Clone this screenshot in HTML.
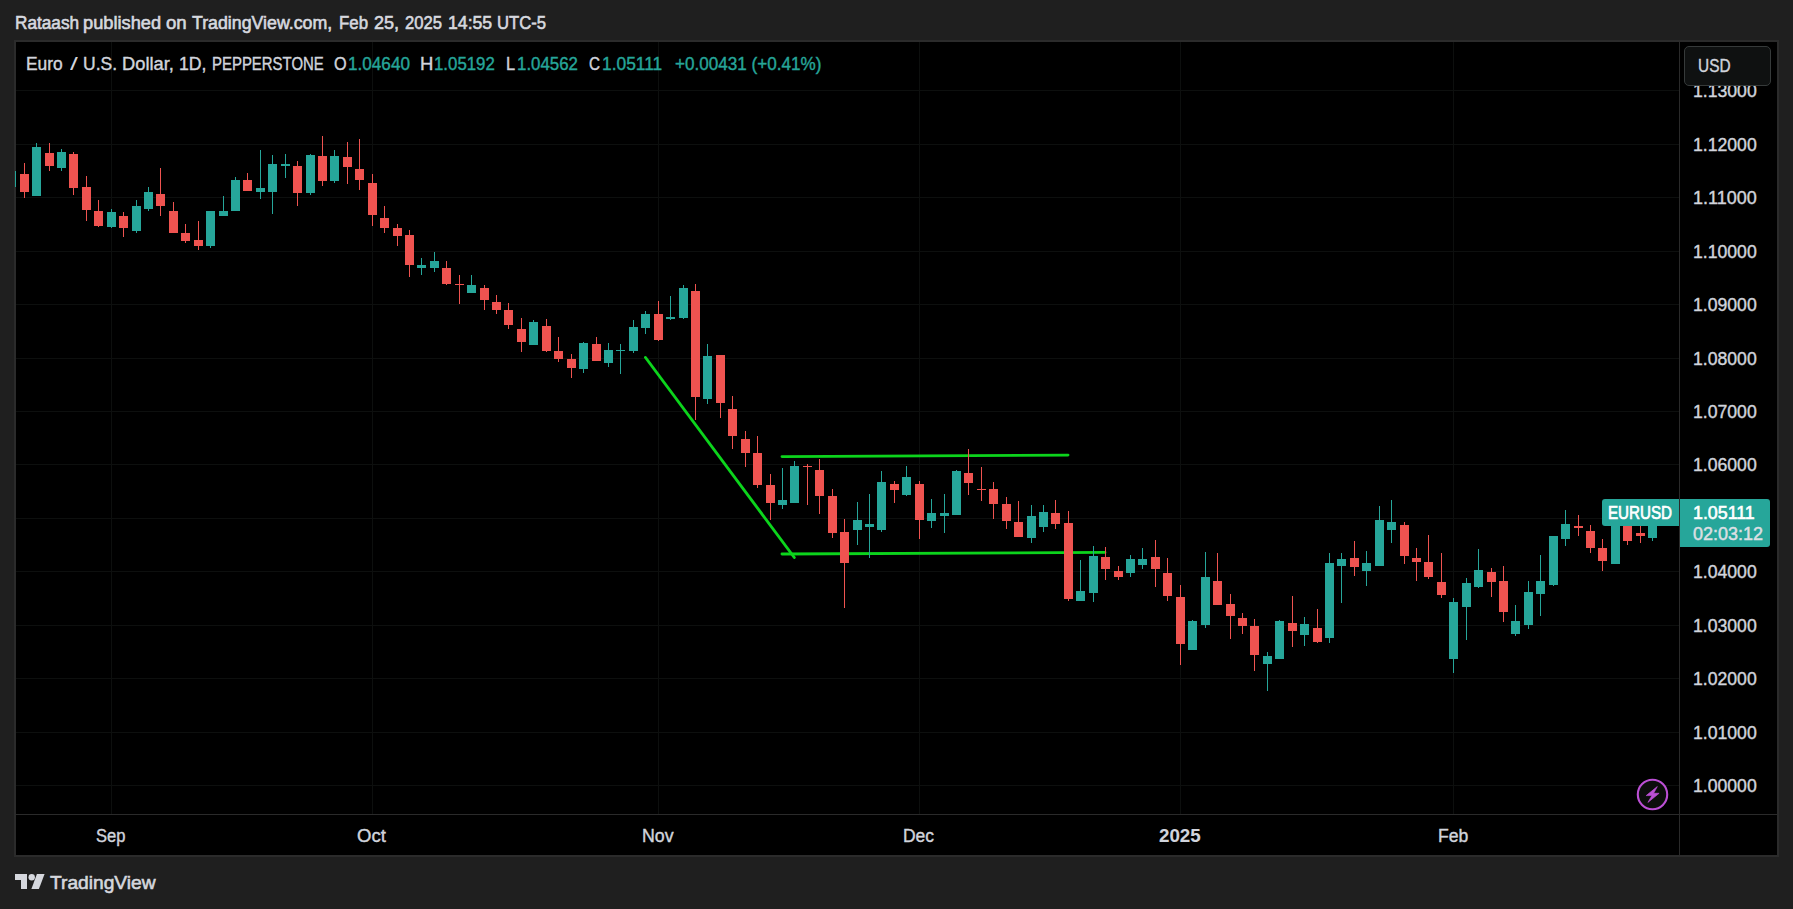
<!DOCTYPE html>
<html><head><meta charset="utf-8"><title>EURUSD chart</title>
<style>
html,body{margin:0;padding:0}
body{width:1793px;height:909px;background:#1f1f1f;overflow:hidden;position:relative;font-family:"Liberation Sans",sans-serif}
svg{position:absolute;left:0;top:0}
.t{-webkit-text-stroke:0.25px currentColor;position:absolute;white-space:pre;line-height:24px;transform-origin:0 0}
</style></head><body>
<svg width="1793" height="909" viewBox="0 0 1793 909" shape-rendering="crispEdges">
<defs><clipPath id="plot"><rect x="15" y="42" width="1664" height="772"/></clipPath></defs>
<rect x="14" y="40" width="1765" height="817" fill="#2b2b2b"/>
<rect x="16" y="42" width="1761" height="813" fill="#000"/>
<rect x="16" y="785" width="1663" height="1" fill="#0d0f0e"/>
<rect x="16" y="732" width="1663" height="1" fill="#0d0f0e"/>
<rect x="16" y="678" width="1663" height="1" fill="#0d0f0e"/>
<rect x="16" y="625" width="1663" height="1" fill="#0d0f0e"/>
<rect x="16" y="571" width="1663" height="1" fill="#0d0f0e"/>
<rect x="16" y="518" width="1663" height="1" fill="#0d0f0e"/>
<rect x="16" y="464" width="1663" height="1" fill="#0d0f0e"/>
<rect x="16" y="411" width="1663" height="1" fill="#0d0f0e"/>
<rect x="16" y="358" width="1663" height="1" fill="#0d0f0e"/>
<rect x="16" y="304" width="1663" height="1" fill="#0d0f0e"/>
<rect x="16" y="251" width="1663" height="1" fill="#0d0f0e"/>
<rect x="16" y="197" width="1663" height="1" fill="#0d0f0e"/>
<rect x="16" y="144" width="1663" height="1" fill="#0d0f0e"/>
<rect x="16" y="90" width="1663" height="1" fill="#0d0f0e"/>
<rect x="111" y="42" width="1" height="772" fill="#0d0f0e"/>
<rect x="372" y="42" width="1" height="772" fill="#0d0f0e"/>
<rect x="658" y="42" width="1" height="772" fill="#0d0f0e"/>
<rect x="919" y="42" width="1" height="772" fill="#0d0f0e"/>
<rect x="1180" y="42" width="1" height="772" fill="#0d0f0e"/>
<rect x="1453" y="42" width="1" height="772" fill="#0d0f0e"/>
<rect x="1679" y="42" width="1" height="813" fill="#2a2a2a"/>
<rect x="16" y="814" width="1761" height="1" fill="#2a2a2a"/>
<line x1="645.5" y1="357.5" x2="794.3" y2="557.5" stroke="#0cd41c" stroke-width="2.9" stroke-linecap="round" shape-rendering="geometricPrecision"/>
<line x1="782" y1="456.6" x2="1068" y2="455.1" stroke="#0cd41c" stroke-width="2.9" stroke-linecap="round" shape-rendering="geometricPrecision"/>
<line x1="782" y1="554.0" x2="1105" y2="552.4" stroke="#0cd41c" stroke-width="2.9" stroke-linecap="round" shape-rendering="geometricPrecision"/>
<g clip-path="url(#plot)">
<rect x="7" y="171" width="9" height="16" fill="#26a69a"/>
<rect x="24" y="163" width="1" height="35" fill="#ef5350"/>
<rect x="20" y="174" width="9" height="18" fill="#ef5350"/>
<rect x="36" y="143" width="1" height="53" fill="#26a69a"/>
<rect x="32" y="147" width="9" height="49" fill="#26a69a"/>
<rect x="49" y="143" width="1" height="28" fill="#ef5350"/>
<rect x="45" y="153" width="9" height="13" fill="#ef5350"/>
<rect x="61" y="149" width="1" height="22" fill="#26a69a"/>
<rect x="57" y="152" width="9" height="16" fill="#26a69a"/>
<rect x="73" y="152" width="1" height="43" fill="#ef5350"/>
<rect x="69" y="154" width="9" height="34" fill="#ef5350"/>
<rect x="86" y="176" width="1" height="45" fill="#ef5350"/>
<rect x="82" y="187" width="9" height="23" fill="#ef5350"/>
<rect x="98" y="200" width="1" height="27" fill="#ef5350"/>
<rect x="94" y="211" width="9" height="15" fill="#ef5350"/>
<rect x="111" y="209" width="1" height="19" fill="#26a69a"/>
<rect x="107" y="212" width="9" height="15" fill="#26a69a"/>
<rect x="123" y="212" width="1" height="25" fill="#ef5350"/>
<rect x="119" y="216" width="9" height="12" fill="#ef5350"/>
<rect x="136" y="200" width="1" height="33" fill="#26a69a"/>
<rect x="132" y="206" width="9" height="25" fill="#26a69a"/>
<rect x="148" y="187" width="1" height="24" fill="#26a69a"/>
<rect x="144" y="192" width="9" height="17" fill="#26a69a"/>
<rect x="160" y="168" width="1" height="48" fill="#ef5350"/>
<rect x="156" y="194" width="9" height="12" fill="#ef5350"/>
<rect x="173" y="202" width="1" height="31" fill="#ef5350"/>
<rect x="169" y="211" width="9" height="22" fill="#ef5350"/>
<rect x="185" y="224" width="1" height="19" fill="#ef5350"/>
<rect x="181" y="233" width="9" height="8" fill="#ef5350"/>
<rect x="198" y="221" width="1" height="29" fill="#ef5350"/>
<rect x="194" y="240" width="9" height="6" fill="#ef5350"/>
<rect x="210" y="211" width="1" height="37" fill="#26a69a"/>
<rect x="206" y="211" width="9" height="35" fill="#26a69a"/>
<rect x="223" y="196" width="1" height="20" fill="#26a69a"/>
<rect x="219" y="211" width="9" height="5" fill="#26a69a"/>
<rect x="235" y="177" width="1" height="34" fill="#26a69a"/>
<rect x="231" y="180" width="9" height="31" fill="#26a69a"/>
<rect x="247" y="173" width="1" height="18" fill="#ef5350"/>
<rect x="243" y="180" width="9" height="11" fill="#ef5350"/>
<rect x="260" y="150" width="1" height="49" fill="#26a69a"/>
<rect x="256" y="188" width="9" height="4" fill="#26a69a"/>
<rect x="272" y="155" width="1" height="59" fill="#26a69a"/>
<rect x="268" y="164" width="9" height="28" fill="#26a69a"/>
<rect x="285" y="154" width="1" height="24" fill="#26a69a"/>
<rect x="281" y="164" width="9" height="2" fill="#26a69a"/>
<rect x="297" y="161" width="1" height="45" fill="#ef5350"/>
<rect x="293" y="166" width="9" height="27" fill="#ef5350"/>
<rect x="310" y="154" width="1" height="41" fill="#26a69a"/>
<rect x="306" y="155" width="9" height="38" fill="#26a69a"/>
<rect x="322" y="136" width="1" height="50" fill="#ef5350"/>
<rect x="318" y="156" width="9" height="25" fill="#ef5350"/>
<rect x="334" y="150" width="1" height="33" fill="#26a69a"/>
<rect x="330" y="156" width="9" height="25" fill="#26a69a"/>
<rect x="347" y="142" width="1" height="42" fill="#ef5350"/>
<rect x="343" y="157" width="9" height="10" fill="#ef5350"/>
<rect x="359" y="139" width="1" height="51" fill="#ef5350"/>
<rect x="355" y="169" width="9" height="11" fill="#ef5350"/>
<rect x="372" y="174" width="1" height="52" fill="#ef5350"/>
<rect x="368" y="183" width="9" height="32" fill="#ef5350"/>
<rect x="384" y="206" width="1" height="27" fill="#ef5350"/>
<rect x="380" y="218" width="9" height="10" fill="#ef5350"/>
<rect x="397" y="224" width="1" height="22" fill="#ef5350"/>
<rect x="393" y="228" width="9" height="8" fill="#ef5350"/>
<rect x="409" y="230" width="1" height="47" fill="#ef5350"/>
<rect x="405" y="235" width="9" height="30" fill="#ef5350"/>
<rect x="421" y="258" width="1" height="17" fill="#26a69a"/>
<rect x="417" y="265" width="9" height="3" fill="#26a69a"/>
<rect x="434" y="252" width="1" height="20" fill="#26a69a"/>
<rect x="430" y="261" width="9" height="7" fill="#26a69a"/>
<rect x="446" y="261" width="1" height="24" fill="#ef5350"/>
<rect x="442" y="268" width="9" height="16" fill="#ef5350"/>
<rect x="459" y="275" width="1" height="29" fill="#ef5350"/>
<rect x="455" y="284" width="9" height="1" fill="#ef5350"/>
<rect x="471" y="275" width="1" height="18" fill="#26a69a"/>
<rect x="467" y="285" width="9" height="8" fill="#26a69a"/>
<rect x="484" y="285" width="1" height="25" fill="#ef5350"/>
<rect x="480" y="288" width="9" height="12" fill="#ef5350"/>
<rect x="496" y="295" width="1" height="19" fill="#ef5350"/>
<rect x="492" y="302" width="9" height="8" fill="#ef5350"/>
<rect x="508" y="303" width="1" height="26" fill="#ef5350"/>
<rect x="504" y="310" width="9" height="15" fill="#ef5350"/>
<rect x="521" y="318" width="1" height="34" fill="#ef5350"/>
<rect x="517" y="329" width="9" height="13" fill="#ef5350"/>
<rect x="533" y="320" width="1" height="25" fill="#26a69a"/>
<rect x="529" y="322" width="9" height="23" fill="#26a69a"/>
<rect x="546" y="319" width="1" height="33" fill="#ef5350"/>
<rect x="542" y="326" width="9" height="25" fill="#ef5350"/>
<rect x="558" y="337" width="1" height="25" fill="#ef5350"/>
<rect x="554" y="351" width="9" height="8" fill="#ef5350"/>
<rect x="571" y="354" width="1" height="24" fill="#ef5350"/>
<rect x="567" y="359" width="9" height="9" fill="#ef5350"/>
<rect x="583" y="342" width="1" height="31" fill="#26a69a"/>
<rect x="579" y="343" width="9" height="26" fill="#26a69a"/>
<rect x="596" y="337" width="1" height="24" fill="#ef5350"/>
<rect x="592" y="344" width="9" height="17" fill="#ef5350"/>
<rect x="608" y="343" width="1" height="24" fill="#26a69a"/>
<rect x="604" y="350" width="9" height="13" fill="#26a69a"/>
<rect x="620" y="344" width="1" height="30" fill="#26a69a"/>
<rect x="616" y="350" width="9" height="1" fill="#26a69a"/>
<rect x="633" y="320" width="1" height="33" fill="#26a69a"/>
<rect x="629" y="327" width="9" height="24" fill="#26a69a"/>
<rect x="645" y="311" width="1" height="23" fill="#26a69a"/>
<rect x="641" y="314" width="9" height="14" fill="#26a69a"/>
<rect x="658" y="301" width="1" height="40" fill="#ef5350"/>
<rect x="654" y="314" width="9" height="26" fill="#ef5350"/>
<rect x="670" y="296" width="1" height="24" fill="#26a69a"/>
<rect x="666" y="317" width="9" height="2" fill="#26a69a"/>
<rect x="683" y="285" width="1" height="34" fill="#26a69a"/>
<rect x="679" y="288" width="9" height="30" fill="#26a69a"/>
<rect x="695" y="284" width="1" height="136" fill="#ef5350"/>
<rect x="691" y="291" width="9" height="106" fill="#ef5350"/>
<rect x="707" y="344" width="1" height="60" fill="#26a69a"/>
<rect x="703" y="356" width="9" height="43" fill="#26a69a"/>
<rect x="720" y="355" width="1" height="63" fill="#ef5350"/>
<rect x="716" y="355" width="9" height="48" fill="#ef5350"/>
<rect x="732" y="396" width="1" height="53" fill="#ef5350"/>
<rect x="728" y="409" width="9" height="27" fill="#ef5350"/>
<rect x="745" y="431" width="1" height="36" fill="#ef5350"/>
<rect x="741" y="439" width="9" height="14" fill="#ef5350"/>
<rect x="757" y="436" width="1" height="52" fill="#ef5350"/>
<rect x="753" y="453" width="9" height="32" fill="#ef5350"/>
<rect x="770" y="474" width="1" height="46" fill="#ef5350"/>
<rect x="766" y="485" width="9" height="18" fill="#ef5350"/>
<rect x="782" y="468" width="1" height="41" fill="#26a69a"/>
<rect x="778" y="500" width="9" height="5" fill="#26a69a"/>
<rect x="794" y="461" width="1" height="42" fill="#26a69a"/>
<rect x="790" y="466" width="9" height="37" fill="#26a69a"/>
<rect x="807" y="464" width="1" height="41" fill="#ef5350"/>
<rect x="803" y="466" width="9" height="1" fill="#ef5350"/>
<rect x="819" y="459" width="1" height="55" fill="#ef5350"/>
<rect x="815" y="470" width="9" height="26" fill="#ef5350"/>
<rect x="832" y="489" width="1" height="49" fill="#ef5350"/>
<rect x="828" y="496" width="9" height="37" fill="#ef5350"/>
<rect x="844" y="519" width="1" height="89" fill="#ef5350"/>
<rect x="840" y="532" width="9" height="31" fill="#ef5350"/>
<rect x="857" y="502" width="1" height="43" fill="#26a69a"/>
<rect x="853" y="520" width="9" height="10" fill="#26a69a"/>
<rect x="869" y="494" width="1" height="64" fill="#26a69a"/>
<rect x="865" y="524" width="9" height="3" fill="#26a69a"/>
<rect x="881" y="471" width="1" height="61" fill="#26a69a"/>
<rect x="877" y="482" width="9" height="48" fill="#26a69a"/>
<rect x="894" y="481" width="1" height="22" fill="#ef5350"/>
<rect x="890" y="484" width="9" height="6" fill="#ef5350"/>
<rect x="906" y="466" width="1" height="30" fill="#26a69a"/>
<rect x="902" y="477" width="9" height="18" fill="#26a69a"/>
<rect x="919" y="481" width="1" height="58" fill="#ef5350"/>
<rect x="915" y="484" width="9" height="36" fill="#ef5350"/>
<rect x="931" y="499" width="1" height="29" fill="#26a69a"/>
<rect x="927" y="513" width="9" height="8" fill="#26a69a"/>
<rect x="944" y="494" width="1" height="39" fill="#26a69a"/>
<rect x="940" y="513" width="9" height="3" fill="#26a69a"/>
<rect x="956" y="470" width="1" height="45" fill="#26a69a"/>
<rect x="952" y="471" width="9" height="44" fill="#26a69a"/>
<rect x="968" y="449" width="1" height="46" fill="#ef5350"/>
<rect x="964" y="473" width="9" height="10" fill="#ef5350"/>
<rect x="981" y="467" width="1" height="34" fill="#ef5350"/>
<rect x="977" y="489" width="9" height="1" fill="#ef5350"/>
<rect x="993" y="482" width="1" height="37" fill="#ef5350"/>
<rect x="989" y="489" width="9" height="15" fill="#ef5350"/>
<rect x="1006" y="497" width="1" height="32" fill="#ef5350"/>
<rect x="1002" y="504" width="9" height="17" fill="#ef5350"/>
<rect x="1018" y="501" width="1" height="36" fill="#ef5350"/>
<rect x="1014" y="522" width="9" height="15" fill="#ef5350"/>
<rect x="1031" y="505" width="1" height="38" fill="#26a69a"/>
<rect x="1027" y="516" width="9" height="22" fill="#26a69a"/>
<rect x="1043" y="505" width="1" height="27" fill="#26a69a"/>
<rect x="1039" y="512" width="9" height="15" fill="#26a69a"/>
<rect x="1055" y="500" width="1" height="29" fill="#ef5350"/>
<rect x="1051" y="513" width="9" height="11" fill="#ef5350"/>
<rect x="1068" y="511" width="1" height="90" fill="#ef5350"/>
<rect x="1064" y="523" width="9" height="76" fill="#ef5350"/>
<rect x="1080" y="560" width="1" height="41" fill="#26a69a"/>
<rect x="1076" y="591" width="9" height="10" fill="#26a69a"/>
<rect x="1093" y="546" width="1" height="56" fill="#26a69a"/>
<rect x="1089" y="556" width="9" height="37" fill="#26a69a"/>
<rect x="1105" y="547" width="1" height="33" fill="#ef5350"/>
<rect x="1101" y="557" width="9" height="12" fill="#ef5350"/>
<rect x="1118" y="566" width="1" height="14" fill="#ef5350"/>
<rect x="1114" y="571" width="9" height="6" fill="#ef5350"/>
<rect x="1130" y="555" width="1" height="22" fill="#26a69a"/>
<rect x="1126" y="559" width="9" height="14" fill="#26a69a"/>
<rect x="1142" y="548" width="1" height="21" fill="#26a69a"/>
<rect x="1138" y="559" width="9" height="6" fill="#26a69a"/>
<rect x="1155" y="540" width="1" height="47" fill="#ef5350"/>
<rect x="1151" y="557" width="9" height="12" fill="#ef5350"/>
<rect x="1167" y="558" width="1" height="43" fill="#ef5350"/>
<rect x="1163" y="573" width="9" height="23" fill="#ef5350"/>
<rect x="1180" y="585" width="1" height="80" fill="#ef5350"/>
<rect x="1176" y="597" width="9" height="47" fill="#ef5350"/>
<rect x="1192" y="620" width="1" height="30" fill="#26a69a"/>
<rect x="1188" y="621" width="9" height="29" fill="#26a69a"/>
<rect x="1205" y="552" width="1" height="76" fill="#26a69a"/>
<rect x="1201" y="577" width="9" height="48" fill="#26a69a"/>
<rect x="1217" y="553" width="1" height="52" fill="#ef5350"/>
<rect x="1213" y="581" width="9" height="24" fill="#ef5350"/>
<rect x="1230" y="594" width="1" height="45" fill="#ef5350"/>
<rect x="1226" y="604" width="9" height="12" fill="#ef5350"/>
<rect x="1242" y="613" width="1" height="21" fill="#ef5350"/>
<rect x="1238" y="618" width="9" height="8" fill="#ef5350"/>
<rect x="1254" y="619" width="1" height="52" fill="#ef5350"/>
<rect x="1250" y="626" width="9" height="29" fill="#ef5350"/>
<rect x="1267" y="652" width="1" height="39" fill="#26a69a"/>
<rect x="1263" y="656" width="9" height="8" fill="#26a69a"/>
<rect x="1279" y="620" width="1" height="39" fill="#26a69a"/>
<rect x="1275" y="621" width="9" height="38" fill="#26a69a"/>
<rect x="1292" y="596" width="1" height="51" fill="#ef5350"/>
<rect x="1288" y="623" width="9" height="8" fill="#ef5350"/>
<rect x="1304" y="617" width="1" height="29" fill="#26a69a"/>
<rect x="1300" y="624" width="9" height="11" fill="#26a69a"/>
<rect x="1317" y="609" width="1" height="34" fill="#ef5350"/>
<rect x="1313" y="628" width="9" height="14" fill="#ef5350"/>
<rect x="1329" y="553" width="1" height="90" fill="#26a69a"/>
<rect x="1325" y="563" width="9" height="75" fill="#26a69a"/>
<rect x="1341" y="553" width="1" height="50" fill="#26a69a"/>
<rect x="1337" y="559" width="9" height="7" fill="#26a69a"/>
<rect x="1354" y="541" width="1" height="35" fill="#ef5350"/>
<rect x="1350" y="558" width="9" height="9" fill="#ef5350"/>
<rect x="1366" y="551" width="1" height="35" fill="#26a69a"/>
<rect x="1362" y="563" width="9" height="8" fill="#26a69a"/>
<rect x="1379" y="506" width="1" height="60" fill="#26a69a"/>
<rect x="1375" y="520" width="9" height="46" fill="#26a69a"/>
<rect x="1391" y="500" width="1" height="43" fill="#26a69a"/>
<rect x="1387" y="522" width="9" height="8" fill="#26a69a"/>
<rect x="1404" y="522" width="1" height="42" fill="#ef5350"/>
<rect x="1400" y="525" width="9" height="31" fill="#ef5350"/>
<rect x="1416" y="548" width="1" height="33" fill="#ef5350"/>
<rect x="1412" y="558" width="9" height="4" fill="#ef5350"/>
<rect x="1428" y="535" width="1" height="44" fill="#ef5350"/>
<rect x="1424" y="562" width="9" height="15" fill="#ef5350"/>
<rect x="1441" y="553" width="1" height="45" fill="#ef5350"/>
<rect x="1437" y="582" width="9" height="13" fill="#ef5350"/>
<rect x="1453" y="598" width="1" height="75" fill="#26a69a"/>
<rect x="1449" y="602" width="9" height="57" fill="#26a69a"/>
<rect x="1466" y="578" width="1" height="62" fill="#26a69a"/>
<rect x="1462" y="583" width="9" height="24" fill="#26a69a"/>
<rect x="1478" y="549" width="1" height="39" fill="#26a69a"/>
<rect x="1474" y="570" width="9" height="17" fill="#26a69a"/>
<rect x="1491" y="568" width="1" height="29" fill="#ef5350"/>
<rect x="1487" y="572" width="9" height="10" fill="#ef5350"/>
<rect x="1503" y="566" width="1" height="56" fill="#ef5350"/>
<rect x="1499" y="581" width="9" height="31" fill="#ef5350"/>
<rect x="1515" y="605" width="1" height="31" fill="#26a69a"/>
<rect x="1511" y="621" width="9" height="13" fill="#26a69a"/>
<rect x="1528" y="581" width="1" height="48" fill="#26a69a"/>
<rect x="1524" y="592" width="9" height="33" fill="#26a69a"/>
<rect x="1540" y="555" width="1" height="61" fill="#26a69a"/>
<rect x="1536" y="581" width="9" height="13" fill="#26a69a"/>
<rect x="1553" y="536" width="1" height="50" fill="#26a69a"/>
<rect x="1549" y="536" width="9" height="49" fill="#26a69a"/>
<rect x="1565" y="510" width="1" height="36" fill="#26a69a"/>
<rect x="1561" y="524" width="9" height="15" fill="#26a69a"/>
<rect x="1578" y="515" width="1" height="21" fill="#ef5350"/>
<rect x="1574" y="526" width="9" height="2" fill="#ef5350"/>
<rect x="1590" y="525" width="1" height="28" fill="#ef5350"/>
<rect x="1586" y="531" width="9" height="17" fill="#ef5350"/>
<rect x="1602" y="539" width="1" height="32" fill="#ef5350"/>
<rect x="1598" y="548" width="9" height="13" fill="#ef5350"/>
<rect x="1615" y="516" width="1" height="48" fill="#26a69a"/>
<rect x="1611" y="520" width="9" height="44" fill="#26a69a"/>
<rect x="1627" y="514" width="1" height="31" fill="#ef5350"/>
<rect x="1623" y="520" width="9" height="21" fill="#ef5350"/>
<rect x="1640" y="522" width="1" height="21" fill="#ef5350"/>
<rect x="1636" y="533" width="9" height="3" fill="#ef5350"/>
<rect x="1652" y="508" width="1" height="33" fill="#26a69a"/>
<rect x="1648" y="512" width="9" height="26" fill="#26a69a"/>
</g>
<g shape-rendering="geometricPrecision"><circle cx="1652.5" cy="794.5" r="14.7" fill="#0c0e0c" stroke="#bb4fd4" stroke-width="2.1"/><polygon points="1657.3,786.6 1646.2,795.6 1652.0,795.6 1647.9,802.4 1659.1,793.3 1653.6,793.3" fill="#bb4fd4" stroke="#bb4fd4" stroke-width="0.7" stroke-linejoin="round"/></g>
<g shape-rendering="geometricPrecision"><path d="M1605,499 H1679 V526 H1605 a3,3 0 0 1 -3,-3 V502 a3,3 0 0 1 3,-3 Z" fill="#26a69a"/><path d="M1680,499 H1767 a3,3 0 0 1 3,3 V544 a3,3 0 0 1 -3,3 H1680 Z" fill="#26a69a"/></g>
<g shape-rendering="geometricPrecision" fill="#d5d7dd"><path d="M15,874 H27 V889 H21 V880 H15 Z"/><circle cx="31.7" cy="877.3" r="3.2"/><path d="M36.9,874 H44.6 L38.9,889 H31.4 Z"/></g>
</svg>
<div class="t" style="left:14.52px;top:10.90px;font-size:18px;font-weight:400;color:#d6d8df;transform:scaleX(0.9560);-webkit-text-stroke-width:0.6px">Rataash</div>
<div class="t" style="left:83.13px;top:10.90px;font-size:18px;font-weight:400;color:#d6d8df;transform:scaleX(1.0135);-webkit-text-stroke-width:0.6px">published</div>
<div class="t" style="left:165.75px;top:10.90px;font-size:18px;font-weight:400;color:#d6d8df;transform:scaleX(1.0342);-webkit-text-stroke-width:0.6px">on</div>
<div class="t" style="left:192.40px;top:10.90px;font-size:18px;font-weight:400;color:#d6d8df;transform:scaleX(0.9871);-webkit-text-stroke-width:0.6px">TradingView.com,</div>
<div class="t" style="left:338.74px;top:10.90px;font-size:18px;font-weight:400;color:#d6d8df;transform:scaleX(0.9344);-webkit-text-stroke-width:0.6px">Feb</div>
<div class="t" style="left:373.63px;top:10.90px;font-size:18px;font-weight:400;color:#d6d8df;transform:scaleX(1.0024);-webkit-text-stroke-width:0.6px">25,</div>
<div class="t" style="left:404.57px;top:10.90px;font-size:18px;font-weight:400;color:#d6d8df;transform:scaleX(0.9239);-webkit-text-stroke-width:0.6px">2025</div>
<div class="t" style="left:447.73px;top:10.90px;font-size:18px;font-weight:400;color:#d6d8df;transform:scaleX(0.9802);-webkit-text-stroke-width:0.6px">14:55</div>
<div class="t" style="left:497.19px;top:10.90px;font-size:18px;font-weight:400;color:#d6d8df;transform:scaleX(0.9271);-webkit-text-stroke-width:0.6px">UTC-5</div>
<div class="t" style="left:26.44px;top:51.90px;font-size:18px;font-weight:400;color:#d1d4dc;transform:scaleX(0.9647);-webkit-text-stroke-width:0.4px">Euro</div>
<div class="t" style="left:70.14px;top:51.90px;font-size:18px;font-weight:400;color:#d1d4dc;transform:scaleX(1.5638);-webkit-text-stroke-width:0.0px">/</div>
<div class="t" style="left:82.58px;top:51.90px;font-size:18px;font-weight:400;color:#d1d4dc;transform:scaleX(0.9737);-webkit-text-stroke-width:0.4px">U.S.</div>
<div class="t" style="left:121.78px;top:51.90px;font-size:18px;font-weight:400;color:#d1d4dc;transform:scaleX(1.0159);-webkit-text-stroke-width:0.4px">Dollar,</div>
<div class="t" style="left:178.78px;top:51.90px;font-size:18px;font-weight:400;color:#d1d4dc;transform:scaleX(0.9809);-webkit-text-stroke-width:0.4px">1D,</div>
<div class="t" style="left:211.50px;top:51.90px;font-size:18px;font-weight:400;color:#d1d4dc;transform:scaleX(0.8299);-webkit-text-stroke-width:0.4px">PEPPERSTONE</div>
<div class="t" style="left:334.04px;top:51.90px;font-size:18px;font-weight:400;color:#d1d4dc;transform:scaleX(0.9030);-webkit-text-stroke-width:0.4px">O</div>
<div class="t" style="left:347.81px;top:51.90px;font-size:18px;font-weight:400;color:#26a69a;transform:scaleX(0.9525);-webkit-text-stroke-width:0.4px">1.04640</div>
<div class="t" style="left:419.77px;top:51.90px;font-size:18px;font-weight:400;color:#d1d4dc;transform:scaleX(1.0275);-webkit-text-stroke-width:0.4px">H</div>
<div class="t" style="left:434.13px;top:51.90px;font-size:18px;font-weight:400;color:#26a69a;transform:scaleX(0.9349);-webkit-text-stroke-width:0.4px">1.05192</div>
<div class="t" style="left:506.10px;top:51.90px;font-size:18px;font-weight:400;color:#d1d4dc;transform:scaleX(0.9136);-webkit-text-stroke-width:0.4px">L</div>
<div class="t" style="left:517.33px;top:51.90px;font-size:18px;font-weight:400;color:#26a69a;transform:scaleX(0.9365);-webkit-text-stroke-width:0.4px">1.04562</div>
<div class="t" style="left:589.28px;top:51.90px;font-size:18px;font-weight:400;color:#d1d4dc;transform:scaleX(0.8469);-webkit-text-stroke-width:0.4px">C</div>
<div class="t" style="left:601.60px;top:51.90px;font-size:18px;font-weight:400;color:#26a69a;transform:scaleX(0.9652);-webkit-text-stroke-width:0.4px">1.05111</div>
<div class="t" style="left:674.92px;top:51.90px;font-size:18px;font-weight:400;color:#26a69a;transform:scaleX(0.9500);-webkit-text-stroke-width:0.4px">+0.00431 (+0.41%)</div>
<div class="t" style="left:1692.68px;top:774.00px;font-size:18px;font-weight:400;color:#d1d4dc;transform:scaleX(0.9793);-webkit-text-stroke-width:0.4px">1.00000</div>
<div class="t" style="left:1692.68px;top:721.00px;font-size:18px;font-weight:400;color:#d1d4dc;transform:scaleX(0.9793);-webkit-text-stroke-width:0.4px">1.01000</div>
<div class="t" style="left:1692.68px;top:667.00px;font-size:18px;font-weight:400;color:#d1d4dc;transform:scaleX(0.9793);-webkit-text-stroke-width:0.4px">1.02000</div>
<div class="t" style="left:1692.68px;top:614.00px;font-size:18px;font-weight:400;color:#d1d4dc;transform:scaleX(0.9793);-webkit-text-stroke-width:0.4px">1.03000</div>
<div class="t" style="left:1692.68px;top:560.00px;font-size:18px;font-weight:400;color:#d1d4dc;transform:scaleX(0.9793);-webkit-text-stroke-width:0.4px">1.04000</div>
<div class="t" style="left:1692.68px;top:453.00px;font-size:18px;font-weight:400;color:#d1d4dc;transform:scaleX(0.9793);-webkit-text-stroke-width:0.4px">1.06000</div>
<div class="t" style="left:1692.68px;top:400.00px;font-size:18px;font-weight:400;color:#d1d4dc;transform:scaleX(0.9793);-webkit-text-stroke-width:0.4px">1.07000</div>
<div class="t" style="left:1692.68px;top:347.00px;font-size:18px;font-weight:400;color:#d1d4dc;transform:scaleX(0.9793);-webkit-text-stroke-width:0.4px">1.08000</div>
<div class="t" style="left:1692.68px;top:293.00px;font-size:18px;font-weight:400;color:#d1d4dc;transform:scaleX(0.9793);-webkit-text-stroke-width:0.4px">1.09000</div>
<div class="t" style="left:1692.68px;top:240.00px;font-size:18px;font-weight:400;color:#d1d4dc;transform:scaleX(0.9793);-webkit-text-stroke-width:0.4px">1.10000</div>
<div class="t" style="left:1692.66px;top:186.00px;font-size:18px;font-weight:400;color:#d1d4dc;transform:scaleX(1.0001);-webkit-text-stroke-width:0.4px">1.11000</div>
<div class="t" style="left:1692.68px;top:133.00px;font-size:18px;font-weight:400;color:#d1d4dc;transform:scaleX(0.9793);-webkit-text-stroke-width:0.4px">1.12000</div>
<div class="t" style="left:1692.68px;top:79.00px;font-size:18px;font-weight:400;color:#d1d4dc;transform:scaleX(0.9793);-webkit-text-stroke-width:0.4px">1.13000</div>
<div style="position:absolute;left:1684.2px;top:46px;width:85.3px;height:37.6px;border:1px solid #363a3a;border-radius:5px;background:#0f1111"></div>
<div class="t" style="left:1698.12px;top:53.80px;font-size:18px;font-weight:400;color:#d1d4dc;transform:scaleX(0.8562);-webkit-text-stroke-width:0.4px">USD</div>
<div class="t" style="left:1607.97px;top:500.90px;font-size:18px;font-weight:400;color:#fff;transform:scaleX(0.8430);-webkit-text-stroke-width:0.7px">EURUSD</div>
<div class="t" style="left:1693.22px;top:500.90px;font-size:18px;font-weight:400;color:#fff;transform:scaleX(0.9898);-webkit-text-stroke-width:0.6px">1.05111</div>
<div class="t" style="left:1693.01px;top:522.15px;font-size:18px;font-weight:400;color:#dcdfe3;transform:scaleX(0.9982);-webkit-text-stroke-width:0.5px">02:03:12</div>
<div class="t" style="left:96.04px;top:824.10px;font-size:18px;font-weight:400;color:#d1d4dc;transform:scaleX(0.9197);-webkit-text-stroke-width:0.4px">Sep</div>
<div class="t" style="left:357.47px;top:824.10px;font-size:18px;font-weight:400;color:#d1d4dc;transform:scaleX(1.0292);-webkit-text-stroke-width:0.4px">Oct</div>
<div class="t" style="left:641.72px;top:824.10px;font-size:18px;font-weight:400;color:#d1d4dc;transform:scaleX(0.9864);-webkit-text-stroke-width:0.4px">Nov</div>
<div class="t" style="left:903.14px;top:824.10px;font-size:18px;font-weight:400;color:#d1d4dc;transform:scaleX(0.9698);-webkit-text-stroke-width:0.4px">Dec</div>
<div class="t" style="left:1437.83px;top:824.10px;font-size:18px;font-weight:400;color:#d1d4dc;transform:scaleX(0.9762);-webkit-text-stroke-width:0.4px">Feb</div>
<div class="t" style="left:1159.00px;top:824.10px;font-size:18px;font-weight:700;color:#d1d4dc;transform:scaleX(1.0406);-webkit-text-stroke-width:0.1px">2025</div>
<div class="t" style="left:49.59px;top:871.45px;font-size:19px;font-weight:400;color:#d5d7dd;transform:scaleX(1.0103);-webkit-text-stroke-width:0.6px">TradingView</div>
</body></html>
